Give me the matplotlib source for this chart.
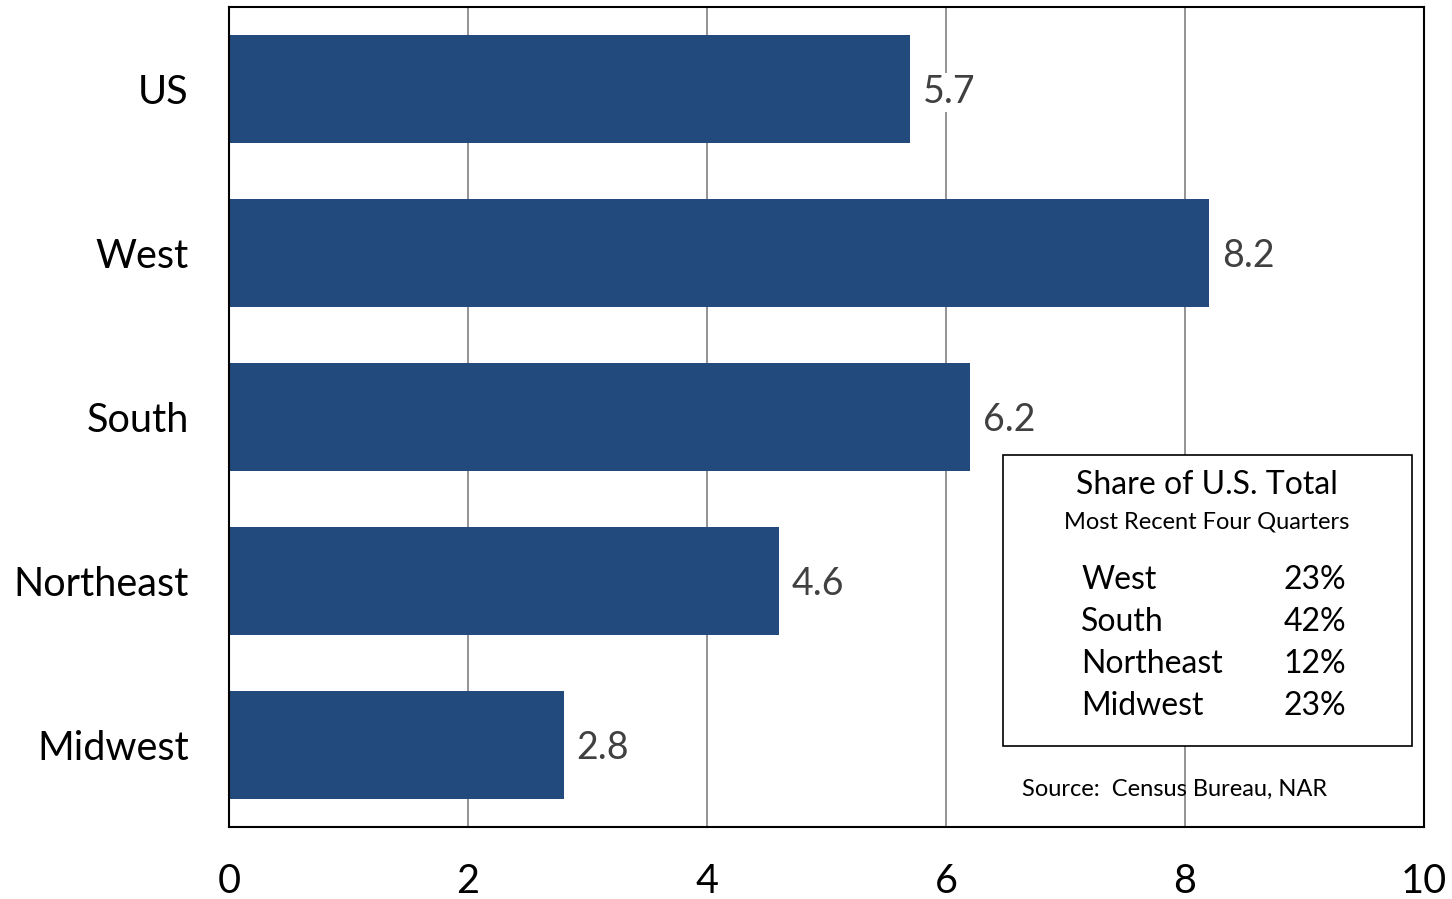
import matplotlib
matplotlib.use("Agg")
import matplotlib.pyplot as plt
import matplotlib.patches as mpatches

plt.rcParams['font.family'] = ['Lato', 'DejaVu Sans']

regions = ['US', 'West', 'South', 'Northeast', 'Midwest']
values = [5.7, 8.2, 6.2, 4.6, 2.8]
share_names = ['West', 'South', 'Northeast', 'Midwest']
share_pcts = ['23%', '42%', '12%', '23%']
xticks = [0, 2, 4, 6, 8, 10]

bar_color = '#224a7c'

fig = plt.figure(figsize=(14.52, 8.99), dpi=100)
ax = fig.add_axes([229/1452, 1 - 827/899, (1424-229)/1452, (827-7)/899])

ypos = list(range(len(regions)))[::-1]
ax.barh(ypos, values, height=0.66, color=bar_color, zorder=2)
for y, v in zip(ypos, values):
    ax.text(v + 0.11, y - 0.02, f'{v:.1f}', va='center', ha='left',
            fontsize=27, color='#404040', zorder=3,
            bbox=dict(facecolor='white', edgecolor='none', pad=1))

ax.set_xlim(0, 10)
ax.set_ylim(-0.5, 4.5)
ax.set_xticks(xticks)
ax.set_xticklabels([str(t) for t in xticks])
ax.set_yticks(ypos)
ax.set_yticklabels(regions)
ax.tick_params(axis='both', length=0, labelsize=28.5, colors='black')
ax.tick_params(axis='x', pad=26)
ax.tick_params(axis='y', pad=29)
ax.grid(axis='x', color='#808080', linewidth=1.2, zorder=0)
ax.set_axisbelow(True)
for s in ax.spines.values():
    s.set_linewidth(1.5)
    s.set_color('black')

# inset box with regional shares
box = mpatches.Rectangle((0.6477, 0.0988), 0.3423, 0.3549, transform=ax.transAxes,
                         facecolor='white', edgecolor='black', linewidth=1.2, zorder=4)
ax.add_patch(box)
ax.text(0.818, 0.417, 'Share of U.S. Total', transform=ax.transAxes, ha='center', va='center',
        fontsize=23, zorder=5)
ax.text(0.818, 0.372, 'Most Recent Four Quarters', transform=ax.transAxes, ha='center', va='center',
        fontsize=17, zorder=5)
for i, (n, p) in enumerate(zip(share_names, share_pcts)):
    yy = (827 - (580 + 42*i)) / 820
    ax.text((1081-229)/1195, yy, n, transform=ax.transAxes, ha='left', va='center',
            fontsize=23, zorder=5)
    ax.text((1346-229)/1195, yy, p, transform=ax.transAxes, ha='right', va='center',
            fontsize=23, zorder=5)
ax.text((1022-229)/1195, (827-789)/820, 'Source:  Census Bureau, NAR', transform=ax.transAxes,
        ha='left', va='center', fontsize=17, zorder=5)

fig.savefig('out.png', dpi=100)
